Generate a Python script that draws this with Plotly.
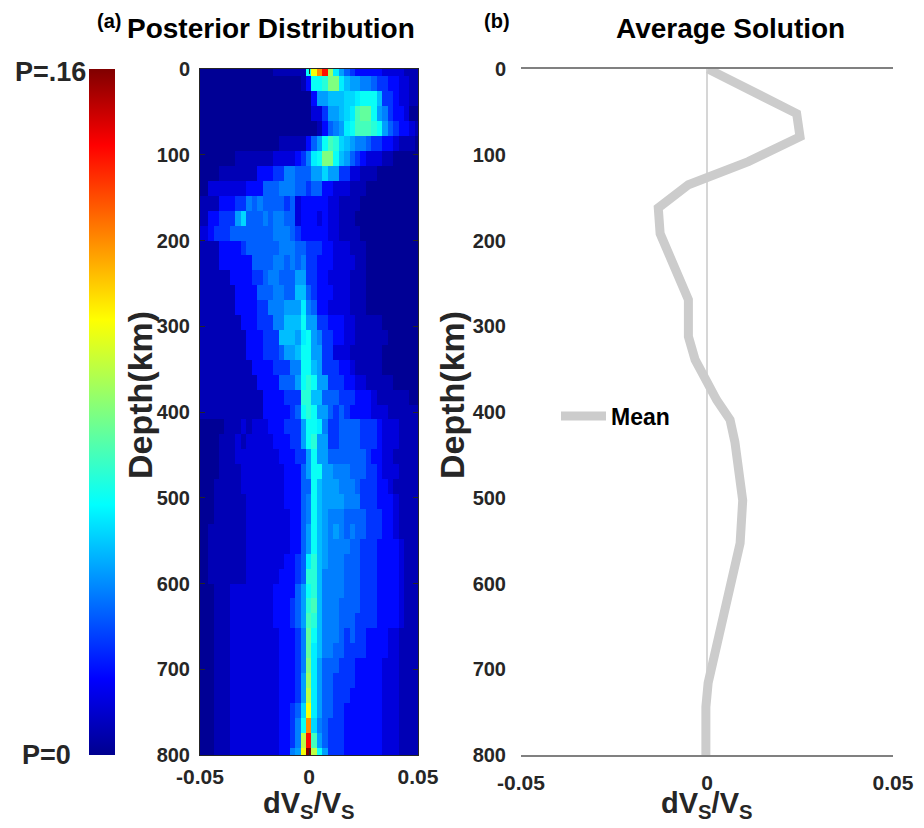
import plotly.graph_objects as go

# ---------------- data ----------------
# depth bin centres (km) and dVs/Vs bin centres of the posterior histogram
DEPTH_BINS_KM = [round(800.0 * i / 46, 3) for i in range(47)]
DV_BINS = [round(-0.05 + 0.0025 * j, 5) for j in range(41)]

# probability levels (char -> probability)
LEVEL_KEYS = "0123456789ABCDEFGHIJKLMNOPQRSTUVW"
LEVEL_P = [0.000, 0.001, 0.006, 0.012, 0.019, 0.026, 0.033, 0.038, 0.043, 0.048,
           0.052, 0.056, 0.060, 0.065, 0.070, 0.075, 0.080, 0.085, 0.090, 0.095,
           0.100, 0.105, 0.110, 0.115, 0.120, 0.125, 0.130, 0.135, 0.140, 0.145,
           0.150, 0.155, 0.160]

# posterior rows (depth 0 -> 800 km), one character per dVs/Vs bin
POSTERIOR_ROWS = [
    "1"*14 + "2"*6 + "CKOSHB865" + "4"*5 + "3"*4 + "2"*3,
    "1"*19 + "2" + "4CCDGGB" + "9887765544" + "3322",
    "1"*21 + "4" + "88999" + "AAB" + "CCC" + "9" + "554" + "33" + "22",
    "1"*21 + "335" + "889" + "AB" + "E" + "FF" + "C" + "87" + "5" + "443" + "11",
    "1"*22 + "24678BCEEEDC865443" + "2",
    "1"*15 + "2"*5 + "468CEDA98776554432221",
    "1"*7 + "2"*7 + "3"*4 + "457BCGGC98654333" + "2211111",
    "1"*4 + "2"*7 + "444" + "55" + "77" + "666" + "88" + "A" + "88" + "55" + "33" + "222" + "1"*8,
    "11" + "3"*7 + "444" + "666" + "777" + "66" + "5" + "66" + "44" + "333" + "222" + "1"*10,
    "2222" + "444" + "55" + "7676" + "66" + "656" + "3" + "4444" + "433" + "2222" + "1"*11,
    "22" + "44" + "555" + "8A" + "666" + "7677" + "66" + "34" + "443" + "433" + "222" + "1"*12,
    "33" + "4555" + "6666" + "6666" + "7776" + "54" + "444" + "433" + "2222" + "1"*11,
    "2222" + "4444" + "566" + "6666" + "777" + "66" + "555" + "44" + "333" + "222" + "1"*10,
    "2222" + "444444" + "6666" + "77" + "6767" + "55" + "444" + "3333" + "22" + "1"*10,
    "222222" + "4444" + "55" + "6776" + "66" + "88" + "5" + "544" + "3333" + "222" + "1"*10,
    "2"*7 + "4444" + "666" + "77" + "66" + "99" + "65" + "444" + "333" + "222" + "1"*10,
    "2"*7 + "4444" + "55" + "777" + "888" + "B" + "76" + "44" + "3333" + "222" + "1"*10,
    "2"*8 + "444" + "555" + "77" + "999" + "C" + "88" + "55" + "444" + "3322222" + "1"*7,
    "2"*9 + "444" + "555" + "999" + "8BC87" + "5544" + "33222222" + "1"*6,
    "2"*9 + "444" + "5556" + "88" + "9" + "CC" + "88" + "55" + "33" + "3222222" + "1"*7,
    "2"*10 + "4444" + "555" + "77" + "CC" + "98" + "555" + "44" + "322222" + "1"*7,
    "2"*11 + "4444" + "666" + "8" + "CDC" + "88" + "555" + "44" + "3322222" + "1"*5,
    "2"*12 + "4444" + "555" + "DD" + "99" + "666" + "555" + "444" + "3222222" + "11",
    "2"*12 + "44444" + "56" + "CDC" + "88" + "6565" + "4444" + "333222222",
    "11111" + "22232333" + "444" + "555" + "8" + "CCB" + "7" + "55" + "6666" + "555" + "43332222",
    "111122" + "23233333" + "444" + "55" + "8C" + "D" + "8" + "8" + "55" + "6666" + "555" + "43332222",
    "1111222" + "3"*8 + "444" + "55" + "8" + "C" + "88" + "6666" + "6665" + "44" + "3322222",
    "11112222" + "3"*8 + "444" + "68" + "CC" + "88" + "777" + "666" + "554" + "3332222",
    "11122222" + "3"*8 + "444" + "66" + "C" + "98" + "887" + "776" + "555" + "44" + "322222",
    "111222222" + "3"*7 + "444" + "67" + "C" + "98" + "888" + "777" + "555" + "444" + "32222",
    "111222222" + "3"*8 + "44" + "67" + "C" + "98" + "777" + "6666" + "555" + "44" + "32222",
    "112222222" + "3"*8 + "44" + "68" + "C" + "98" + "787" + "6766" + "555" + "44" + "32222",
    "112222222" + "3"*8 + "44" + "68" + "C" + "98" + "777" + "766" + "555" + "4444" + "3222",
    "112222222" + "3"*7 + "44" + "56" + "BD" + "9" + "8777" + "666" + "555" + "4444" + "3222",
    "112222222" + "3"*6 + "444" + "56" + "DD" + "9" + "7777" + "666" + "555" + "4444" + "3222",
    "111222" + "3"*8 + "4444" + "68" + "CD" + "9" + "7777" + "666" + "555" + "4444" + "3222",
    "111222" + "3"*8 + "4445" + "68" + "DE" + "9" + "777" + "6666" + "555" + "4444" + "3222",
    "111222" + "3"*8 + "4445" + "68" + "ED" + "9" + "777" + "6665" + "555" + "4444" + "3222",
    "111222" + "3"*9 + "444" + "57" + "F" + "C" + "9" + "777" + "6565" + "5444" + "4332222",
    "111222" + "3"*9 + "444" + "57" + "F" + "B" + "9" + "776" + "6555" + "5444" + "4332222",
    "111222" + "3"*9 + "444" + "57" + "G" + "B" + "8" + "666" + "555" + "44444" + "3332222",
    "111222" + "3"*9 + "444" + "58" + "H" + "B" + "8" + "665" + "555" + "44444" + "3332222",
    "111222" + "3"*9 + "444" + "58" + "I" + "B" + "8" + "665" + "554" + "44444" + "3332222",
    "111222" + "3"*9 + "445" + "6" + "A" + "K" + "B" + "8" + "665" + "544" + "44444" + "3332222",
    "111222" + "3"*9 + "445" + "7" + "C" + "O" + "A" + "7" + "655" + "544" + "44444" + "3332222",
    "111222" + "3"*9 + "445" + "7" + "I" + "S" + "E" + "8" + "655" + "544" + "44444" + "3332222",
    "111222" + "3"*9 + "44" + "78" + "K" + "W" + "I" + "C" + "8" + "55" + "544" + "44444" + "3332222",
]

# average (mean) solution
MEAN_DEPTH_KM = [0, 52, 79, 108, 135, 162, 192, 242, 269, 312, 339, 386, 409, 435,
                 503, 553, 650, 716, 744, 800]
MEAN_DV = [0.0003, 0.0241, 0.0250, 0.0111, -0.0050, -0.0131, -0.0126, -0.0073,
           -0.0050, -0.0050, -0.0032, 0.0026, 0.0062, 0.0075, 0.0096, 0.0089,
           0.0035, 0.0003, -0.0003, -0.0003]

DEPTH_TICKS = [0, 100, 200, 300, 400, 500, 600, 700, 800]
DV_TICKS = [-0.05, 0, 0.05]
DV_TICK_TEXT = ["-0.05", "0", "0.05"]

# ---------------- build ----------------
W, H = 924, 828
z = []
for row in POSTERIOR_ROWS:
    vals = [LEVEL_P[LEVEL_KEYS.index(c)] for c in row]
    vals = (vals + [vals[-1]] * 41)[:41]
    z.append(vals)

JET = [[0.0, "rgb(0,0,143)"], [0.111, "rgb(0,0,255)"], [0.365, "rgb(0,255,255)"],
       [0.635, "rgb(255,255,0)"], [0.889, "rgb(255,0,0)"], [1.0, "rgb(128,0,0)"]]

FONT = "Liberation Sans, Arial, Helvetica, sans-serif"
TICK_COLOR = "#262626"

def px(x):
    return x / W

def py(y):
    return 1 - y / H

fig = go.Figure()
fig.add_trace(go.Heatmap(
    x=DV_BINS, y=DEPTH_BINS_KM, z=z, colorscale=JET, zmin=0, zmax=0.16,
    zsmooth=False, xaxis="x", yaxis="y", hoverinfo="skip",
    colorbar=dict(x=px(89), xanchor="left", xpad=0, y=py(755), yanchor="bottom",
                  ypad=0, len=686 / H, lenmode="fraction", thickness=26,
                  thicknessmode="pixels", showticklabels=False, ticks="",
                  outlinewidth=0),
))
fig.add_trace(go.Scatter(
    x=MEAN_DV, y=MEAN_DEPTH_KM, mode="lines", name="Mean",
    line=dict(color="#cccccc", width=9), xaxis="x2", yaxis="y2",
))

ytickfont = dict(family=FONT, size=20, color=TICK_COLOR, weight="bold")
xtickfont = dict(family=FONT, size=21, color=TICK_COLOR, weight="bold")
common_y = dict(range=[800, 0], tickvals=DEPTH_TICKS, showgrid=False, zeroline=False,
                domain=[py(755), py(69)], tickfont=ytickfont, automargin=False)

fig.update_layout(
    width=W, height=H, margin=dict(l=0, r=0, t=0, b=0, pad=0, autoexpand=False),
    paper_bgcolor="white", plot_bgcolor="white",
    font=dict(family=FONT, weight="bold", color="black"),
    xaxis=dict(domain=[px(200), px(418)], range=[-0.05, 0.05], tickvals=DV_TICKS,
               ticktext=DV_TICK_TEXT, showline=True, mirror="ticks", linecolor=TICK_COLOR,
               linewidth=1, ticks="inside", ticklen=5, tickcolor=TICK_COLOR,
               showgrid=False, zeroline=False, tickfont=xtickfont, anchor="y",
               automargin=False, ticklabelstandoff=3),
    yaxis=dict(showline=True, mirror="ticks", linecolor=TICK_COLOR, linewidth=1,
               ticks="inside", ticklen=5, tickcolor=TICK_COLOR, anchor="x",
               ticklabelstandoff=5, **common_y),
    xaxis2=dict(domain=[px(521), px(893)], range=[-0.05, 0.05], tickvals=DV_TICKS,
                ticktext=DV_TICK_TEXT, showline=True, mirror=True, linecolor="#808080",
                linewidth=1.5, ticks="", showgrid=False, zeroline=True,
                zerolinecolor="#d6d6d6", zerolinewidth=2, tickfont=xtickfont, anchor="y2",
                automargin=False, ticklabelstandoff=8),
    yaxis2=dict(showline=False, ticks="", anchor="x2", ticklabelstandoff=14, **common_y),
    showlegend=True,
    legend=dict(x=px(556), y=py(416), xanchor="left", yanchor="middle", itemwidth=45,
                bgcolor="rgba(0,0,0,0)", font=dict(family=FONT, size=23, weight="bold",
                                                   color="black")),
)

def ann(text, x, y, size, angle=0, xanchor="center", color="black"):
    fig.add_annotation(text=text, x=px(x), y=py(y), xref="paper", yref="paper",
                       showarrow=False, textangle=angle, xanchor=xanchor, yanchor="middle",
                       font=dict(family=FONT, size=size, weight="bold", color=color))

ann("(a)", 109, 21, 20)
ann("Posterior Distribution", 271, 28, 28)
ann("(b)", 497, 21, 20)
ann("Average Solution", 730, 28, 28)
ann("P=.16", 50, 72, 27, color=TICK_COLOR)
ann("P=0", 46, 755, 27, color=TICK_COLOR)
ann("Depth(km)", 140, 395, 34, angle=-90, color=TICK_COLOR)
ann("Depth(km)", 452, 395, 34, angle=-90, color=TICK_COLOR)
ann("dV<sub>S</sub>/V<sub>S</sub>", 309, 805, 29, color=TICK_COLOR)
ann("dV<sub>S</sub>/V<sub>S</sub>", 707, 805, 29, color=TICK_COLOR)

fig.write_html("out.html")
